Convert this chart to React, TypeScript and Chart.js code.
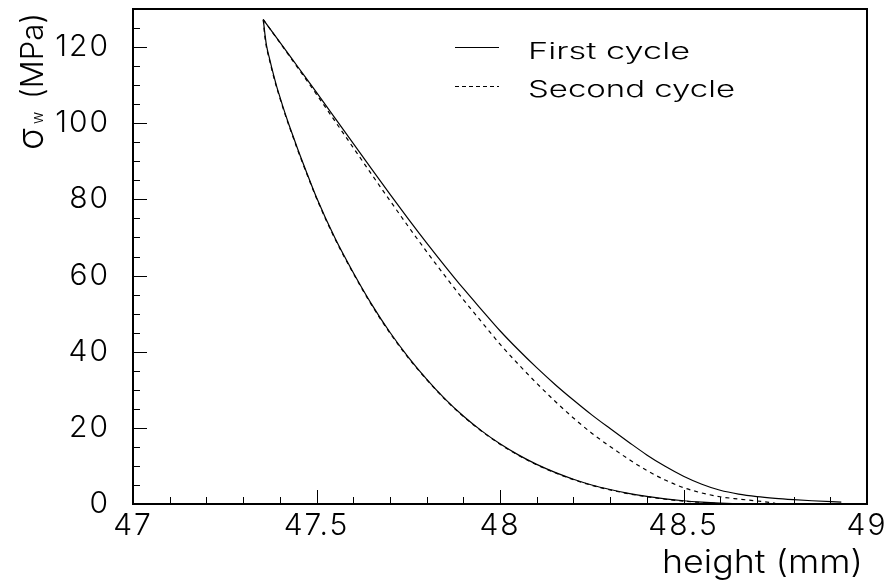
import React, { useEffect, useRef } from "react";
import { Chart, registerables } from "chart.js";

Chart.register(...registerables);

// ---------- data ----------
const xTickValues = [47, 47.5, 48, 48.5, 49];
const yTickValues = [0, 20, 40, 60, 80, 100, 120];
const legendLabels = ["First cycle", "Second cycle"];
const xAxisTitle = "height (mm)";
const yAxisSymbol = "σ";
const yAxisSub = "w";
const yAxisUnit = "(MPa)";

// First cycle, upper (loading) branch
const firstUpperX = [47.355, 47.4, 47.45, 47.5, 47.55, 47.6, 47.65, 47.7, 47.75, 47.8, 47.85, 47.9, 47.95, 48.0, 48.05, 48.1, 48.15, 48.2, 48.25, 48.3, 48.35, 48.4, 48.45, 48.5, 48.55, 48.6, 48.65, 48.7, 48.75, 48.8, 48.85, 48.93];
const firstUpperY = [127.2, 121.3, 114.7, 108.1, 101.4, 94.7, 88.0, 81.4, 74.9, 68.6, 62.5, 56.6, 51.0, 45.5, 40.5, 35.8, 31.4, 27.3, 23.4, 19.8, 16.3, 12.9, 9.9, 7.3, 5.2, 3.6, 2.6, 1.95, 1.5, 1.15, 0.85, 0.5];

// First cycle, lower (unloading) branch
const firstLowerX = [47.355, 47.36, 47.364, 47.373, 47.38, 47.392, 47.4, 47.41, 47.425, 47.437, 47.45, 47.475, 47.5, 47.55, 47.6, 47.65, 47.7, 47.75, 47.8, 47.85, 47.9, 47.95, 48.0, 48.05, 48.1, 48.15, 48.2, 48.25, 48.3, 48.35, 48.4, 48.45, 48.5, 48.55, 48.6, 48.65];
const firstLowerY = [127.2, 123.0, 120.3, 116.6, 113.8, 109.5, 107.0, 103.9, 99.6, 96.4, 92.9, 86.6, 80.5, 69.9, 60.8, 52.5, 45.1, 38.6, 32.8, 27.6, 23.1, 19.2, 15.8, 12.9, 10.4, 8.3, 6.5, 5.0, 3.8, 2.8, 2.0, 1.35, 0.85, 0.5, 0.25, 0.08];

// Second cycle, upper (loading) branch
const secondUpperX = [47.355, 47.4, 47.45, 47.5, 47.55, 47.6, 47.65, 47.7, 47.75, 47.8, 47.85, 47.9, 47.95, 48.0, 48.05, 48.1, 48.15, 48.2, 48.25, 48.3, 48.35, 48.4, 48.45, 48.5, 48.55, 48.6, 48.65, 48.7, 48.75];
const secondUpperY = [127.2, 121.2, 114.4, 107.6, 100.6, 93.6, 86.6, 79.7, 72.9, 66.3, 59.9, 53.7, 47.8, 42.0, 36.7, 31.7, 27.0, 22.6, 18.6, 15.1, 11.8, 8.8, 6.3, 4.3, 2.9, 1.9, 1.3, 0.8, 0.2];

// Second cycle, lower (unloading) branch
const secondLowerX = [47.355, 47.359, 47.363, 47.372, 47.379, 47.391, 47.399, 47.409, 47.424, 47.436, 47.449, 47.474, 47.5, 47.55, 47.6, 47.65, 47.7, 47.75, 47.8, 47.85, 47.9, 47.95, 48.0, 48.05, 48.1, 48.15, 48.2, 48.25, 48.3, 48.35, 48.4, 48.45, 48.5, 48.55, 48.6];
const secondLowerY = [127.2, 123.0, 120.3, 116.6, 113.8, 109.5, 107.0, 103.9, 99.6, 96.4, 92.9, 86.6, 80.3, 69.7, 60.6, 52.3, 44.9, 38.4, 32.7, 27.5, 23.0, 19.1, 15.7, 12.8, 10.3, 8.2, 6.4, 4.9, 3.7, 2.7, 1.9, 1.25, 0.75, 0.4, 0.1];

// ---------- style ----------
const FONT_FAMILY = 'Inter, "Liberation Sans", "DejaVu Sans", sans-serif';
const INK = "#000000";

const toPoints = (xs: number[], ys: number[]) => xs.map((x, i) => ({ x, y: ys[i] }));

// draw text stretched horizontally to a given width (ROOT-like wide glyphs)
function fitText(ctx: CanvasRenderingContext2D, text: string, x: number, y: number, width: number) {
  (ctx as any).letterSpacing = "0px";
  const w = ctx.measureText(text).width;
  const sx = width / w;
  ctx.save();
  ctx.translate(x, y);
  ctx.scale(sx, 1);
  ctx.fillText(text, 0, 0);
  ctx.restore();
}

const decorPlugin = {
  id: "decor",
  beforeDraw(chart: any) {
    (chart.ctx as any).letterSpacing = "2px";
  },
  afterDraw(chart: any) {
    const ctx: CanvasRenderingContext2D = chart.ctx;
    const { left, right, top, bottom } = chart.chartArea;
    const xs = chart.scales.x;
    const ys = chart.scales.y;
    ctx.save();
    (ctx as any).letterSpacing = "0px";
    ctx.strokeStyle = INK;
    ctx.lineWidth = 1;
    // inward ticks
    ctx.beginPath();
    for (let i = 0; i <= 20; i++) {
      const v = 47 + i * 0.1;
      const px = Math.round(xs.getPixelForValue(v)) + 0.5;
      const len = i % 5 === 0 ? 14 : 7;
      ctx.moveTo(px, bottom);
      ctx.lineTo(px, bottom - len);
    }
    for (let i = 0; i <= 26; i++) {
      const v = i * 5;
      const py = Math.round(ys.getPixelForValue(v)) + 0.5;
      const len = i % 4 === 0 ? 14 : 7;
      ctx.moveTo(left, py);
      ctx.lineTo(left + len, py);
    }
    ctx.stroke();
    // frame
    ctx.lineWidth = 2;
    ctx.strokeRect(left, top, right - left, bottom - top);

    // legend
    ctx.lineWidth = 1;
    ctx.beginPath();
    ctx.moveTo(455, 47.5);
    ctx.lineTo(499, 47.5);
    ctx.stroke();
    ctx.setLineDash([4, 3]);
    ctx.beginPath();
    ctx.moveTo(455, 86.5);
    ctx.lineTo(499, 86.5);
    ctx.stroke();
    ctx.setLineDash([]);
    ctx.fillStyle = INK;
    ctx.textAlign = "left";
    ctx.textBaseline = "alphabetic";
    ctx.font = `300 23px ${FONT_FAMILY}`;
    fitText(ctx, legendLabels[0], 528, 59, 162);
    fitText(ctx, legendLabels[1], 528, 97, 207);

    // x title
    ctx.font = `300 32px ${FONT_FAMILY}`;
    fitText(ctx, xAxisTitle, 662, 573, 201);

    // y title (rotated)
    ctx.save();
    ctx.translate(43, 150);
    ctx.rotate(-Math.PI / 2);
    ctx.font = `300 36px ${FONT_FAMILY}`;
    fitText(ctx, yAxisSymbol, 0, 0, 22);
    ctx.font = `300 15px ${FONT_FAMILY}`;
    ctx.fillText(yAxisSub, 26, 0);
    ctx.font = `300 31px ${FONT_FAMILY}`;
    fitText(ctx, yAxisUnit, 51, 0, 86);
    ctx.restore();

    ctx.restore();
  },
};

export default function App() {
  const ref = useRef<HTMLCanvasElement | null>(null);
  useEffect(() => {
    if (!ref.current) return;
    const lineStyle = {
      showLine: true,
      pointRadius: 0,
      borderColor: INK,
      borderWidth: 1.2,
      fill: false,
      cubicInterpolationMode: "monotone" as const,
    };
    const chart = new Chart(ref.current, {
      type: "scatter",
      data: {
        datasets: [
          { label: legendLabels[0], data: toPoints(firstUpperX, firstUpperY), ...lineStyle },
          { label: legendLabels[0] + " (unloading)", data: toPoints(firstLowerX, firstLowerY), ...lineStyle },
          { label: legendLabels[1], data: toPoints(secondUpperX, secondUpperY), ...lineStyle, borderDash: [4, 4] },
          { label: legendLabels[1] + " (unloading)", data: toPoints(secondLowerX, secondLowerY), ...lineStyle, borderDash: [4, 4] },
        ],
      },
      options: {
        animation: false,
        responsive: false,
        maintainAspectRatio: false,
        events: [],
        layout: { padding: { top: 9, right: 23, left: 0, bottom: 0 } },
        plugins: { legend: { display: false }, tooltip: { enabled: false }, title: { display: false } },
        scales: {
          x: {
            type: "linear",
            min: 47,
            max: 49,
            grid: { display: false, drawTicks: false },
            border: { display: false },
            afterFit: (s: any) => { s.height = 80; s.paddingLeft = 0; s.paddingRight = 0; },
            afterBuildTicks: (s: any) => { s.ticks = xTickValues.map((v) => ({ value: v })); },
            ticks: {
              padding: 4,
              color: INK,
              maxRotation: 0,
              autoSkip: false,
              font: { family: FONT_FAMILY, size: 30, weight: 300 as any },
              callback: (v: any) => String(v),
            },
          },
          y: {
            type: "linear",
            min: 0,
            max: 130,
            grid: { display: false, drawTicks: false },
            border: { display: false },
            afterFit: (s: any) => { s.width = 133; s.paddingTop = 0; s.paddingBottom = 0; },
            afterBuildTicks: (s: any) => { s.ticks = yTickValues.map((v) => ({ value: v })); },
            ticks: {
              padding: 23,
              color: INK,
              autoSkip: false,
              font: { family: FONT_FAMILY, size: 30, weight: 300 as any },
              callback: (v: any) => String(v),
            },
          },
        },
      },
      plugins: [decorPlugin],
    });
    return () => chart.destroy();
  }, []);
  return (
    <div style={{ position: "fixed", left: 0, top: 0, width: 890, height: 584, background: "#fff" }}>
      <canvas ref={ref} width={890} height={584} style={{ width: 890, height: 584, display: "block" }} />
    </div>
  );
}
